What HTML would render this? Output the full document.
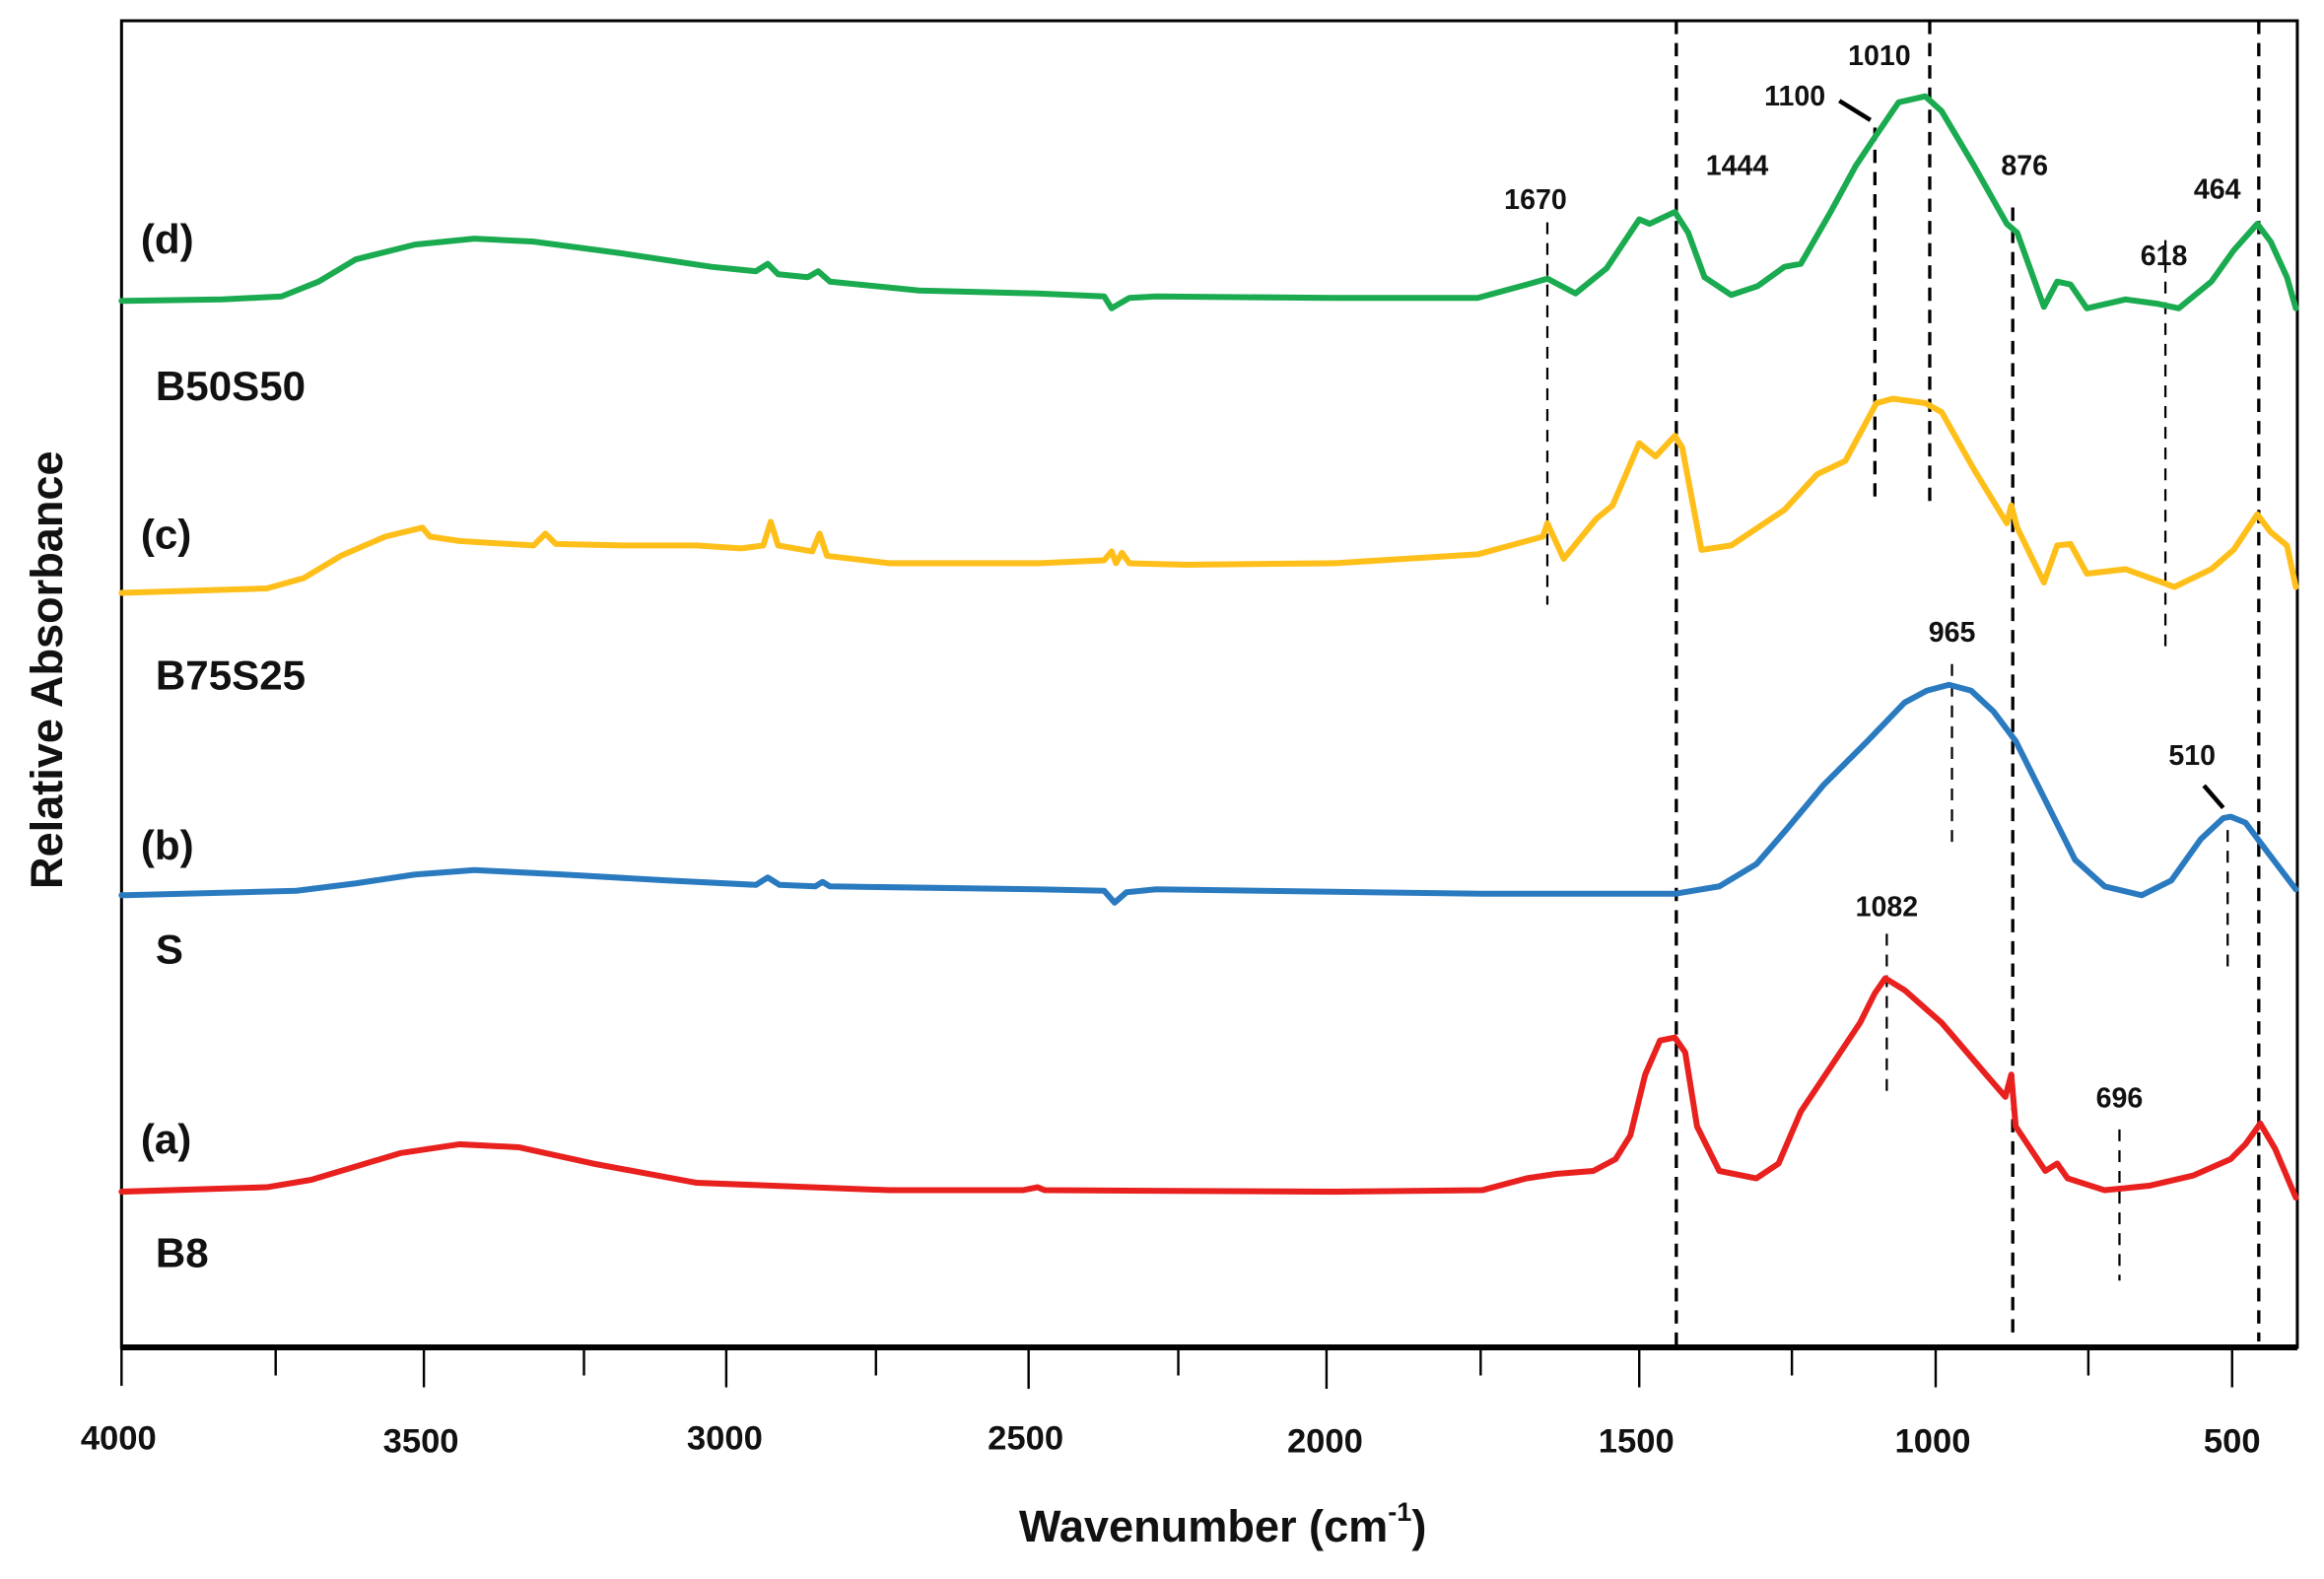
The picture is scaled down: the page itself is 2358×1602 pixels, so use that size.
<!DOCTYPE html>
<html><head><meta charset="utf-8"><style>
html,body{margin:0;padding:0;background:#fff;}
svg{display:block;}
text{font-family:"Liberation Sans",sans-serif;font-weight:bold;fill:#111;}
</style></head><body>
<svg width="2358" height="1602" viewBox="0 0 1568 1065.3" preserveAspectRatio="none" xmlns="http://www.w3.org/2000/svg">
<rect x="0" y="0" width="1568" height="1066" fill="#fff"/>
<!-- frame -->
<rect x="82" y="14" width="1468" height="895" fill="none" stroke="#000" stroke-width="2"/>
<line x1="82" y1="909" x2="1550" y2="909" stroke="#000" stroke-width="4"/>
<!-- ticks -->
<g stroke="#000" stroke-width="1.6">
<line x1="82" y1="909" x2="82" y2="935"/><line x1="186" y1="909" x2="186" y2="928"/>
<line x1="286" y1="909" x2="286" y2="936"/><line x1="394" y1="909" x2="394" y2="928"/>
<line x1="490" y1="909" x2="490" y2="936"/><line x1="591" y1="909" x2="591" y2="928"/>
<line x1="694" y1="909" x2="694" y2="937"/><line x1="795" y1="909" x2="795" y2="928"/>
<line x1="895" y1="909" x2="895" y2="937"/><line x1="999" y1="909" x2="999" y2="928"/>
<line x1="1106" y1="909" x2="1106" y2="936"/><line x1="1209" y1="909" x2="1209" y2="928"/>
<line x1="1306" y1="909" x2="1306" y2="936"/><line x1="1409" y1="909" x2="1409" y2="928"/>
<line x1="1506" y1="909" x2="1506" y2="936"/>
</g>
<g font-size="23" text-anchor="middle">
<text x="80" y="978">4000</text><text x="284" y="980">3500</text><text x="489" y="978">3000</text>
<text x="692" y="978">2500</text><text x="894" y="980">2000</text><text x="1104" y="980">1500</text>
<text x="1304" y="980">1000</text><text x="1506" y="980">500</text>
</g>
<text x="825" y="1040" font-size="30" text-anchor="middle">Wavenumber (cm<tspan font-size="18" dy="-14">-1</tspan><tspan dy="14">)</tspan></text>
<text transform="translate(42,452) rotate(-90)" font-size="30" text-anchor="middle">Relative Absorbance</text>
<!-- dashed lines -->
<g stroke="#000" stroke-width="2.2" stroke-dasharray="9,6" fill="none">
<line x1="1131" y1="14" x2="1131" y2="909"/>
<line x1="1358" y1="140" x2="1358" y2="905"/>
<line x1="1524" y1="14" x2="1524" y2="905"/>
<line x1="1302" y1="14" x2="1302" y2="338"/>
<line x1="1265" y1="86" x2="1265" y2="338"/>
</g>
<g stroke="#000" stroke-width="1.5" stroke-dasharray="8,6" fill="none">
<line x1="1044" y1="150" x2="1044" y2="408"/>
<line x1="1461" y1="162" x2="1461" y2="436"/>
<line x1="1317" y1="448" x2="1317" y2="570"/>
<line x1="1503" y1="560" x2="1503" y2="656"/>
<line x1="1273" y1="630" x2="1273" y2="742"/>
<line x1="1430" y1="762" x2="1430" y2="864"/>
</g>
<line x1="1241" y1="68" x2="1262" y2="81" stroke="#000" stroke-width="3"/>
<line x1="1487" y1="530" x2="1500" y2="545" stroke="#000" stroke-width="3"/>
<!-- peak labels -->
<g font-size="19" text-anchor="middle">
<text x="1036" y="141">1670</text><text x="1172" y="118">1444</text>
<text x="1211" y="71">1100</text><text x="1268" y="44">1010</text>
<text x="1366" y="118">876</text><text x="1496" y="134">464</text>
<text x="1460" y="179">618</text><text x="1317" y="433">965</text>
<text x="1479" y="516">510</text><text x="1273" y="618">1082</text>
<text x="1430" y="747">696</text>
</g>
<!-- series labels -->
<g font-size="28">
<text x="95" y="171">(d)</text><text x="105" y="270">B50S50</text>
<text x="95" y="370">(c)</text><text x="105" y="465">B75S25</text>
<text x="95" y="580">(b)</text><text x="105" y="650">S</text>
<text x="95" y="778">(a)</text><text x="105" y="855">B8</text>
</g>
<!-- curves -->
<g fill="none" stroke-width="4" stroke-linejoin="round" stroke-linecap="round">
<polyline stroke="#1aaa4f" points="82,203 150,202 190,200 215,190 240,175 280,165 320,161 360,163 420,171 480,180 510,183 518,178 525,185 545,187 552,183 560,190 620,196 700,198 745,200 750,208 755,205 762,201 780,200 900,201 997,201 1030,192 1044,188 1063,198 1084,181 1106,148 1113,151 1130,143 1139,157 1150,187 1168,199 1186,193 1204,180 1215,178 1234,145 1252,112 1266,91 1281,69 1299,65 1310,75 1332,112 1354,151 1361,157 1379,207 1388,190 1397,192 1408,208 1434,202 1456,205 1470,208 1492,190 1507,169 1523,151 1532,163 1543,187 1549,208"/>
<polyline stroke="#ffbf1a" points="82,400 180,397 205,390 230,375 260,362 285,356 290,362 310,365 360,368 368,360 375,367 420,368 470,368 500,370 515,368 520,352 525,368 548,372 553,360 558,375 600,380 700,380 745,378 750,372 753,380 757,373 762,380 800,381 900,380 997,374 1041,362 1044,353 1055,377 1077,350 1088,341 1106,299 1117,308 1130,294 1135,302 1148,371 1168,368 1204,344 1226,320 1245,311 1266,272 1277,269 1299,272 1310,278 1332,317 1354,353 1357,341 1361,356 1379,393 1388,368 1397,367 1408,387 1434,384 1459,393 1467,396 1492,384 1507,371 1523,347 1532,359 1543,368 1549,396"/>
<polyline stroke="#2a7ac0" points="82,604 200,601 240,596 280,590 320,587 380,590 450,594 510,597 518,592 526,597 550,598 555,595 560,598 700,600 745,601 752,609 760,602 780,600 1000,603 1130,603 1160,598 1185,583 1205,560 1230,530 1260,500 1285,474 1300,466 1315,462 1330,466 1345,480 1360,500 1380,540 1400,580 1420,598 1445,604 1465,594 1485,566 1500,552 1505,551 1515,555 1530,575 1549,600"/>
<polyline stroke="#e8201e" points="82,804 180,801 210,796 240,787 270,778 310,772 350,774 400,785 470,798 600,803 690,803 700,801 705,803 900,804 1000,803 1030,795 1050,792 1075,790 1090,782 1100,766 1110,725 1120,702 1130,700 1137,710 1145,760 1160,790 1185,795 1200,785 1215,750 1235,720 1255,690 1265,670 1272,660 1285,668 1310,690 1340,725 1353,740 1357,725 1360,760 1380,790 1388,785 1395,795 1420,803 1450,800 1480,793 1505,782 1515,772 1525,758 1535,775 1549,808"/>
</g>
</svg>
</body></html>
